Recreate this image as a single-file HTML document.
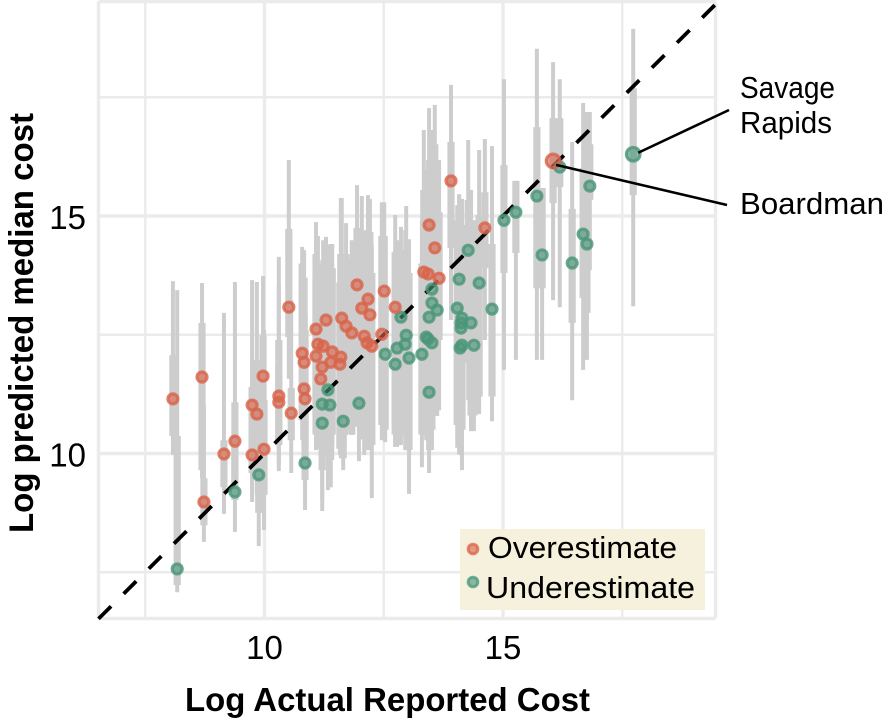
<!DOCTYPE html>
<html lang="en">
<head>
<meta charset="utf-8">
<title>Log predicted median cost vs log actual reported cost</title>
<style>
html,body{margin:0;padding:0;background:#fff;width:886px;height:728px;overflow:hidden}
svg{display:block}
text{font-family:"Liberation Sans",Arial,sans-serif;fill:#000}
.bold{font-weight:700}
</style>
</head>
<body>
<svg id="chart" xmlns="http://www.w3.org/2000/svg" width="886" height="728" viewBox="0 0 886 728">
  <g id="grid"></g>
  <g id="intervals"></g>
  <g id="diagonal"></g>
  <g id="points"></g>
  <g id="callouts"></g>
  <g id="ticks"></g>
  <text class="bold" x="185" y="711" font-size="33" textLength="405" lengthAdjust="spacingAndGlyphs">Log Actual Reported Cost</text>
  <text class="bold" transform="translate(33,533) rotate(-90)" font-size="34" textLength="420" lengthAdjust="spacingAndGlyphs">Log predicted median cost</text>
  <text x="740" y="98" font-size="31" textLength="95" lengthAdjust="spacingAndGlyphs">Savage</text>
  <text x="740" y="133" font-size="31" textLength="92" lengthAdjust="spacingAndGlyphs">Rapids</text>
  <text x="740" y="214" font-size="31" textLength="144" lengthAdjust="spacingAndGlyphs">Boardman</text>
  <g>
    <rect x="460" y="529" width="245" height="81" fill="#f5f1dc"></rect>
    <circle cx="473" cy="549" r="4.8" fill="#d9694f" fill-opacity=".65" stroke="#d9694f" stroke-opacity=".8" stroke-width="3"></circle>
    <circle cx="473" cy="582" r="4.8" fill="#4f9a80" fill-opacity=".65" stroke="#4f9a80" stroke-opacity=".8" stroke-width="3"></circle>
    <text x="488" y="558" font-size="31" textLength="189" lengthAdjust="spacingAndGlyphs">Overestimate</text>
    <text x="486" y="598" font-size="31" textLength="209" lengthAdjust="spacingAndGlyphs">Underestimate</text>
  </g>
</svg>
<script>
const overActual = [8.08,8.69,8.73,9.15,9.38,9.74,9.84,9.97,10.30,10.30,10.56,9.74,9.99,10.51,10.79,10.83,10.83,10.85,11.08,11.29,11.12,11.08,11.23,11.21,11.18,11.42,11.39,11.60,11.58,11.62,11.71,11.83,11.94,12.04,12.17,12.21,12.09,12.15,12.25,12.46,12.51,12.74,13.45,13.57,13.34,13.43,13.66,13.91,14.62];
const overPredicted = [11.15,11.61,8.98,9.99,10.26,11.02,10.83,11.63,11.21,11.08,10.85,9.97,10.09,13.08,12.11,11.92,11.36,11.15,12.62,12.81,12.30,12.05,12.26,11.82,11.57,12.14,11.92,12.03,11.88,12.85,12.68,12.54,13.55,13.06,13.25,12.92,12.47,12.33,12.26,12.51,13.42,13.08,14.81,14.33,13.82,13.78,13.69,15.74,14.75];
const overHi95 = [13.63,13.59,11.02,12.96,13.61,13.65,13.61,13.74,14.14,13.55,13.23,11.97,12.60,16.18,14.35,14.28,13.23,13.02,14.87,14.56,14.58,14.39,14.49,14.07,13.65,14.41,14.41,15.38,14.07,15.38,14.85,14.49,15.65,15.42,15.44,15.36,14.70,14.49,14.39,15.29,15.29,15.02,17.27,17.34,16.81,16.18,16.18,17.76,16.62];
const overHi50 = [12.07,12.75,9.48,10.28,11.08,11.40,11.97,12.49,12.39,11.86,11.38,10.70,11.12,14.73,14.0,13.7,12.9,12.6,14.2,14.4,14.0,13.7,13.9,13.3,13.0,13.9,13.7,14.2,13.6,14.2,14.2,14.1,14.75,14.49,14.60,14.66,14.2,14.0,13.8,14.58,14.58,14.24,15.97,16.51,15.55,15.13,15.08,16.56,15.50];
const overLo50 = [10.37,9.65,8.49,9.29,9.38,9.65,9.65,10.70,10.28,10.18,10.28,9.59,9.13,12.45,10.7,10.6,10.3,10.1,10.8,10.9,10.6,10.4,10.5,10.3,10.1,10.4,10.18,10.3,10.1,10.7,10.5,10.4,11.0,10.7,10.8,10.6,10.3,10.3,10.18,10.6,11.4,10.6,13.23,12.60,12.39,12.39,12.39,14.33,13.90];
const overLo95 = [9.97,9.48,8.14,8.73,9.02,9.23,9.13,10.07,9.63,9.76,9.59,8.98,8.39,11.57,10.28,10.07,9.86,9.65,10.49,10.70,10.28,10.07,10.18,9.86,9.65,9.86,9.29,9.90,9.97,10.49,10.39,10.39,10.6,10.3,10.5,10.07,9.97,10.07,9.06,10.28,11.12,10.14,11.76,11.12,10.70,10.91,10.91,12.81,12.39];

const underActual = [8.17,9.38,9.88,10.85,11.33,11.21,11.37,11.98,11.21,11.65,12.53,12.74,12.86,12.97,12.95,12.78,13.03,13.30,13.39,13.43,13.51,13.45,13.51,13.51,13.62,13.45,14.27,14.08,14.50,14.04,14.77,14.14,14.12,14.12,14.33,14.14,14.10,14.39,15.02,15.27,15.71,15.82,16.19,16.45,16.68,16.76,16.82];
const underPredicted = [7.57,9.19,9.55,9.80,11.34,11.04,11.02,11.06,10.64,10.68,12.09,11.88,12.87,12.49,12.30,12.22,12.01,12.09,12.45,12.41,12.33,11.29,13.46,13.17,13.02,12.87,14.28,13.67,13.59,13.06,13.04,12.85,12.75,12.64,12.75,12.28,12.22,12.28,14.91,15.08,15.42,14.18,16.03,14.01,14.62,14.41,15.63];
const underHi95 = [13.44,10.91,11.34,12.60,13.86,13.23,13.23,13.44,12.81,13.02,14.49,14.28,14.77,15.21,14.70,14.49,14.51,14.91,15.34,15.55,15.13,14.49,16.81,16.39,15.97,15.76,16.60,15.46,16.39,15.23,16.47,15.36,15.23,15.02,15.55,14.70,14.49,14.91,17.88,15.74,18.52,15.59,17.88,16.56,17.38,17.19,17.19];
const underHi50 = [10.37,10.28,10.49,11.55,12.81,12.18,12.28,12.49,11.76,11.86,13.5,13.5,14.07,14.28,14.0,13.8,13.8,14.0,14.5,14.7,14.4,13.6,15.7,15.5,15.2,15.0,15.34,15.02,15.02,14.91,14.41,14.81,14.6,14.4,14.4,14.0,13.9,13.9,16.07,15.74,16.87,15.59,17.06,15.15,16.01,15.34,16.51];
const underLo50 = [7.23,9.02,8.75,9.44,9.97,9.97,10.18,10.56,9.65,9.90,10.5,10.4,10.5,10.4,10.4,10.3,10.07,10.4,10.7,10.5,10.5,10.49,11.4,11.2,11.0,11.0,11.9,11.2,11.2,10.6,11.2,10.7,10.7,10.6,10.8,10.5,10.5,10.8,13.80,14.22,13.48,13.48,15.61,12.75,13.27,12.96,15.34];
const underLo95 = [7.08,8.35,8.05,8.81,9.23,8.79,9.29,9.84,9.02,9.65,10.24,10.14,10.18,10.07,10.07,10.14,9.15,9.71,10.28,10.07,10.07,9.59,11.12,10.70,10.79,10.49,11.12,9.99,10.83,10.12,10.68,10.28,10.18,10.07,10.47,9.65,9.97,10.47,11.76,11.97,11.97,11.97,13.08,11.12,11.76,11.97,13.86];

const boardman = {actual:16.05, predicted:16.16, hi95:18.24, hi50:17.06, lo50:15.27, lo95:13.23};
const savage = {actual:17.73, predicted:16.30, hi95:18.94, hi50:17.69, lo50:15.44, lo95:13.10};

const xTickLabels = [10, 15];
const yTickLabels = [10, 15];
const majorGrid = [10, 15];
const minorGrid = [7.5, 12.5, 17.5];

const NS = 'http://www.w3.org/2000/svg';
function xScale(v){ return 264.5 + (v - 10) * 47.7; }
function yScale(v){ return 453.5 - (v - 10) * 47.5; }
function make(tag, parent, attrs){
  const el = document.createElementNS(NS, tag);
  for (const k in attrs) el.setAttribute(k, attrs[k]);
  parent.appendChild(el);
  return el;
}

const gridG = document.getElementById('grid');
const L = 98.5, R = 715.5, T = 1.5, B = 618.5;
function gridLine(x1, y1, x2, y2, w, name){
  const el = make('line', gridG, {x1:x1, y1:y1, x2:x2, y2:y2, stroke:'#ebebeb', 'stroke-width':w});
  
  
}
minorGrid.forEach(function(v){
  gridLine(xScale(v), T, xScale(v), B, 2.4, 'minor-gridline-x');
  gridLine(L, yScale(v), R, yScale(v), 2.4, 'minor-gridline-y');
});
majorGrid.forEach(function(v){
  gridLine(xScale(v), T, xScale(v), B, 3.4, 'major-gridline-x');
  gridLine(L, yScale(v), R, yScale(v), 3.4, 'major-gridline-y');
});
gridLine(L, T, R, T, 3.4, 'panel-border-top');
gridLine(L, B, R, B, 3.4, 'panel-border-bottom');
gridLine(L, T, L, B, 3.4, 'panel-border-left');
gridLine(R, T, R, B, 3.4, 'panel-border-right');

const intervalG = document.getElementById('intervals');
function drawInterval(x, hi95, hi50, lo50, lo95){
  const thin = make('line', intervalG, {x1:xScale(x), x2:xScale(x), y1:yScale(hi95), y2:yScale(lo95), stroke:'#cdcdcd', 'stroke-width':4});
  
  
  const thick = make('line', intervalG, {x1:xScale(x), x2:xScale(x), y1:yScale(hi50), y2:yScale(lo50), stroke:'#cdcdcd', 'stroke-width':7.2});
  
  
}
overActual.forEach(function(x, i){ drawInterval(x, overHi95[i], overHi50[i], overLo50[i], overLo95[i]); });
underActual.forEach(function(x, i){ drawInterval(x, underHi95[i], underHi50[i], underLo50[i], underLo95[i]); });
drawInterval(boardman.actual, boardman.hi95, boardman.hi50, boardman.lo50, boardman.lo95);
drawInterval(savage.actual, savage.hi95, savage.hi50, savage.lo50, savage.lo95);

const diag = make('line', document.getElementById('diagonal'), {
  x1:xScale(6.52), y1:yScale(6.52), x2:xScale(19.49), y2:yScale(19.49),
  stroke:'#000', 'stroke-width':3.8, 'stroke-dasharray':'17.7 17.8'
});



const pointG = document.getElementById('points');
function drawPoint(x, y, color, r, name){
  const c = make('circle', pointG, {cx:xScale(x), cy:yScale(y), r:r, fill:color, 'fill-opacity':.62, stroke:color, 'stroke-opacity':.82, 'stroke-width':3.2});
  
  
}
const overColor = '#d9644a';
const underColor = '#4a9679';
underActual.forEach(function(x, i){ drawPoint(x, underPredicted[i], underColor, 5, 'underestimate-point'); });
overActual.forEach(function(x, i){ drawPoint(x, overPredicted[i], overColor, 5, 'overestimate-point'); });
drawPoint(savage.actual, savage.predicted, underColor, 6.8, 'savage-rapids-point');
drawPoint(boardman.actual, boardman.predicted, overColor, 6.8, 'boardman-point');

const calloutG = document.getElementById('callouts');
const c1 = make('line', calloutG, {x1:xScale(savage.actual)+5, y1:yScale(savage.predicted)-1.5, x2:729, y2:110, stroke:'#000', 'stroke-width':2.6});


const c2 = make('line', calloutG, {x1:xScale(boardman.actual)+3, y1:yScale(boardman.predicted)+4, x2:727, y2:205, stroke:'#000', 'stroke-width':2.6});



const tickG = document.getElementById('ticks');
xTickLabels.forEach(function(v){
  const t = make('text', tickG, {x:xScale(v), y:659, 'font-size':33, 'text-anchor':'middle'});
  t.textContent = v;
  
  
});
yTickLabels.forEach(function(v){
  const t = make('text', tickG, {x:86, y:yScale(v)+13, 'font-size':33, 'text-anchor':'end'});
  t.textContent = v;
  
  
});
</script>
</body>
</html>
